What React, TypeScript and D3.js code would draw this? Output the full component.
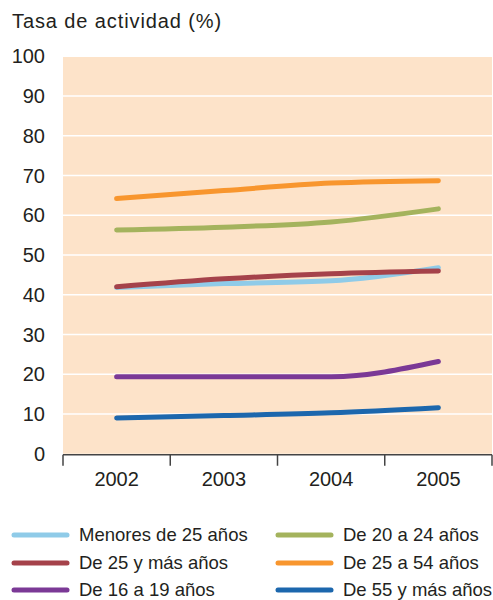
import React from "react";
import * as d3 from "d3";

const years = ["2002", "2003", "2004", "2005"];
const yTicks = [0, 10, 20, 30, 40, 50, 60, 70, 80, 90, 100];

const seriesNames = [
  "Menores de 25 años",
  "De 25 y más años",
  "De 16 a 19 años",
  "De 20 a 24 años",
  "De 25 a 54 años",
  "De 55 y más años",
];
const seriesColors = ["#8fcbe8", "#a5424a", "#7b3996", "#a4b35d", "#f8962e", "#1c67ad"];

const menores25 = [41.8, 42.8, 43.5, 46.8];
const mas25 = [42.0, 44.0, 45.3, 46.0];
const de16a19 = [19.4, 19.4, 19.4, 23.2];
const de20a24 = [56.3, 57.0, 58.3, 61.6];
const de25a54 = [64.2, 66.2, 68.1, 68.7];
const mas55 = [9.0, 9.6, 10.3, 11.6];

const seriesValues = [menores25, mas25, de16a19, de20a24, de25a54, mas55];
// draw order (bottom to top)
const drawOrder = [0, 3, 4, 1, 2, 5];

const FONT = "'Liberation Sans', Arial, sans-serif";

export default function App() {
  const W = 493, H = 600;
  const left = 63, right = 492, top = 56.25, bottom = 453.75;
  const x = d3.scaleBand<string>().domain(years).range([left, right]);
  const y = d3.scaleLinear().domain([0, 100]).range([bottom, top]);
  const line = d3
    .line<number>()
    .x((_, i) => (x(years[i]) as number) + x.bandwidth() / 2)
    .y((d) => y(d))
    .curve(d3.curveMonotoneX);

  const legendRows = [535, 563, 590];
  return (
    <svg width={W} height={H} style={{ position: "absolute", left: 0, top: 0 }} fontFamily={FONT}>
      <text x={12} y={28} fontSize={20} letterSpacing={0.9} fill="#231f20">Tasa de actividad (%)</text>
      <rect x={left} y={top} width={right - left} height={bottom - top} fill="#fde3c9" />
      {yTicks.filter((t) => t > 0).map((t) => (
        <line key={t} x1={left} x2={right} y1={y(t)} y2={y(t)} stroke="#ffffff" strokeWidth={1.5} />
      ))}
      {yTicks.map((t) => (
        <text key={t} x={45} y={y(t)} dy="0.35em" textAnchor="end" fontSize={20} fill="#231f20">{t}</text>
      ))}
      <line x1={left} x2={right} y1={bottom + 1} y2={bottom + 1} stroke="#444" strokeWidth={1.5} />
      {[...years.map((yr) => x(yr) as number), right].map((px, i) => (
        <line key={i} x1={px} x2={px} y1={bottom + 1} y2={bottom + 12} stroke="#444" strokeWidth={1.5} />
      ))}
      {years.map((yr) => (
        <text key={yr} x={(x(yr) as number) + x.bandwidth() / 2} y={486} textAnchor="middle" fontSize={20} fill="#231f20">{yr}</text>
      ))}
      {drawOrder.map((i) => (
        <path key={i} d={line(seriesValues[i]) || ""} fill="none" stroke={seriesColors[i]} strokeWidth={5} strokeLinecap="round" strokeLinejoin="round" />
      ))}
      {seriesNames.map((name, i) => {
        const col = Math.floor(i / 3);
        const row = i % 3;
        const sx = col === 0 ? 12 : 276;
        const ty = legendRows[row];
        return (
          <g key={name}>
            <line x1={sx + 2} x2={sx + 55} y1={ty} y2={ty} stroke={seriesColors[i]} strokeWidth={5} strokeLinecap="round" />
            <text x={sx + 67} y={ty} dy="0.35em" fontSize={18.5} fill="#231f20">{name}</text>
          </g>
        );
      })}
    </svg>
  );
}
